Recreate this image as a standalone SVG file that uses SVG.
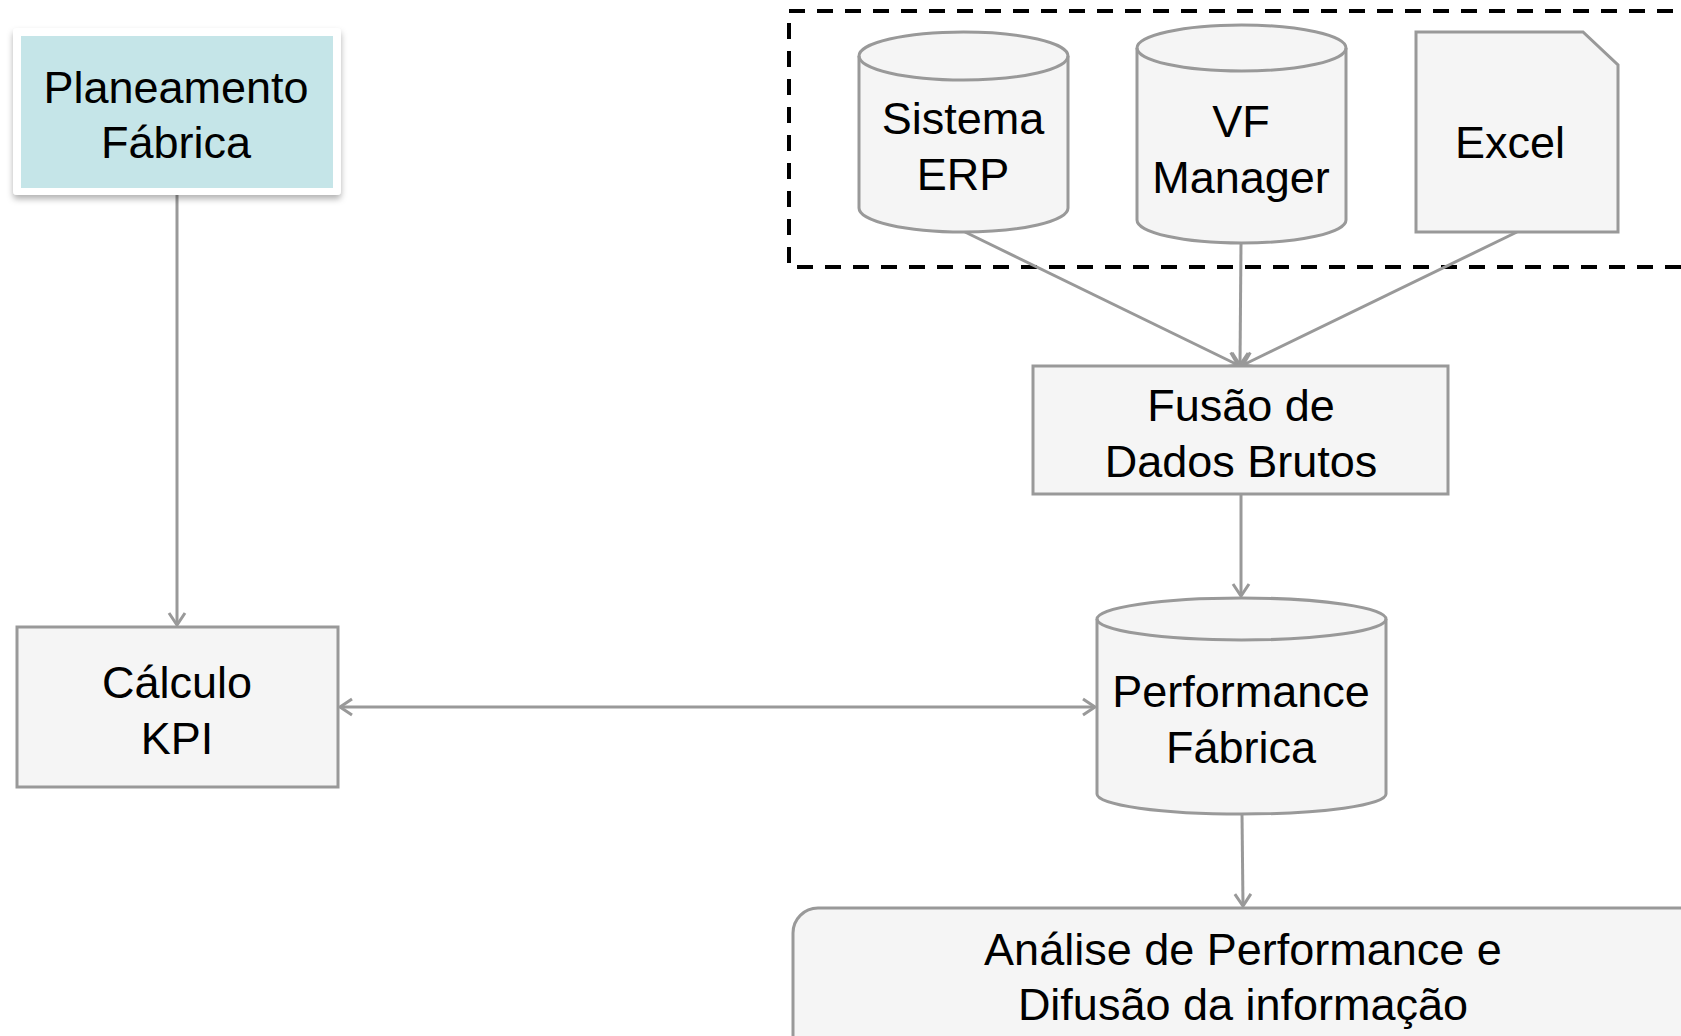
<svg xmlns="http://www.w3.org/2000/svg" width="1681" height="1036" viewBox="0 0 1681 1036">
<style>
.node{fill:#f5f5f5;stroke:#999;stroke-width:3}
.t{font-family:"Liberation Sans",Arial,sans-serif;font-size:45px;fill:#000;text-anchor:middle}
.c{stroke:#999;stroke-width:3;fill:none}
</style>
<defs>
<marker id="ah" markerUnits="userSpaceOnUse" markerWidth="20" markerHeight="20" refX="0" refY="0" viewBox="-14 -10 16 20" orient="auto-start-reverse">
<path d="M-12,-8 L0,0 L-12,8" fill="none" stroke="#999" stroke-width="3"/>
</marker>
<filter id="sh" x="-10%" y="-10%" width="125%" height="135%">
<feDropShadow dx="0" dy="4" stdDeviation="3" flood-color="#000" flood-opacity="0.3"/>
</filter>
</defs>
<rect width="1681" height="1036" fill="#fff"/>
<rect x="789" y="11" width="920" height="256" fill="none" stroke="#000" stroke-width="4" stroke-dasharray="16 12"/>
<g id="connectors">
<line class="c" x1="177" y1="195" x2="177" y2="625" marker-end="url(#ah)"/>
<line class="c" x1="340" y1="707" x2="1095" y2="707" marker-start="url(#ah)" marker-end="url(#ah)"/>
<line class="c" x1="965" y1="232" x2="1238" y2="365" marker-end="url(#ah)"/>
<line class="c" x1="1241" y1="243" x2="1240" y2="365" marker-end="url(#ah)"/>
<line class="c" x1="1517" y1="232" x2="1243" y2="365" marker-end="url(#ah)"/>
<line class="c" x1="1241" y1="494" x2="1241" y2="596" marker-end="url(#ah)"/>
<line class="c" x1="1242" y1="814" x2="1243" y2="906" marker-end="url(#ah)"/>
</g>
<g id="planeamento">
<rect x="13" y="28" width="328" height="167" rx="4" fill="#fff" filter="url(#sh)"/>
<rect x="21" y="36" width="312" height="152" fill="#c5e5e8"/>
<text class="t" x="176" y="103">Planeamento</text>
<text class="t" x="176" y="158">Fábrica</text>
</g>
<g id="calculo">
<rect class="node" x="17" y="627" width="321" height="160"/>
<text class="t" x="177" y="698">Cálculo</text>
<text class="t" x="177" y="754">KPI</text>
</g>
<g id="erp">
<path class="node" d="M859,56 A104.5,24 0 0,1 1068,56 L1068,208 A104.5,24 0 0,1 859,208 Z"/>
<path class="c" d="M859,56 A104.5,24 0 0,0 1068,56"/>
<text class="t" x="963" y="134">Sistema</text>
<text class="t" x="963" y="190">ERP</text>
</g>
<g id="vf">
<path class="node" d="M1137,48 A104.5,23 0 0,1 1346,48 L1346,220 A104.5,23 0 0,1 1137,220 Z"/>
<path class="c" d="M1137,48 A104.5,23 0 0,0 1346,48"/>
<text class="t" x="1241" y="137">VF</text>
<text class="t" x="1241" y="193">Manager</text>
</g>
<g id="excel">
<path class="node" d="M1416,32 L1583,32 L1618,65 L1618,232 L1416,232 Z"/>
<text class="t" x="1510" y="158">Excel</text>
</g>
<g id="fusao">
<rect class="node" x="1033" y="366" width="415" height="128"/>
<text class="t" x="1241" y="421">Fusão de</text>
<text class="t" x="1241" y="477">Dados Brutos</text>
</g>
<g id="performance">
<path class="node" d="M1097,619 A144.5,21 0 0,1 1386,619 L1386,794 A144.5,20 0 0,1 1097,794 Z"/>
<path class="c" d="M1097,619 A144.5,21 0 0,0 1386,619"/>
<text class="t" x="1241" y="707">Performance</text>
<text class="t" x="1241" y="763">Fábrica</text>
</g>
<g id="analise">
<rect class="node" x="793" y="908" width="950" height="200" rx="25"/>
<text class="t" x="1243" y="965">Análise de Performance e</text>
<text class="t" x="1243" y="1020">Difusão da informação</text>
</g>
</svg>
